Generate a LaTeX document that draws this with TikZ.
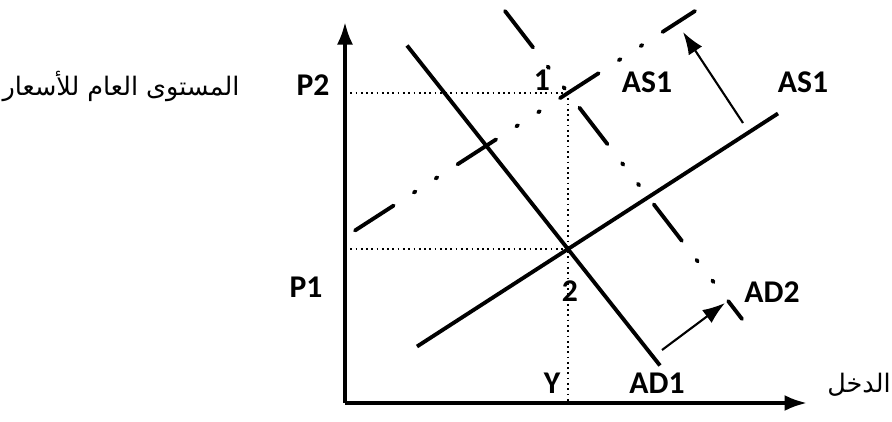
\documentclass[tikz,border=0pt]{standalone}
\usepackage{fontspec}
\setmainfont{Carlito}
\newfontfamily\arabicfont[Script=Arabic]{DejaVu Sans}
\TeXXeTstate=1
\usetikzlibrary{arrows.meta}

\begin{document}
\begin{tikzpicture}[>={Latex[length=4.5mm,width=3.2mm]},
		font=\fontsize{18}{21}\selectfont\bfseries,
		courbe/.style={line width=2.2pt},
		decale/.style={line width=2.2pt, line cap=round,
			dash pattern=on 0.92cm off 0.48cm on 0.04cm off 0.48cm on 0.04cm off 0.48cm},
		repere/.style={dotted, line width=1pt},
		axe/.style={line width=2pt, ->},
		fleche/.style={line width=1.2pt, ->}]
		\useasboundingbox (-6.9,-0.36) rectangle (10.94,8.06);
		% axes
		\coordinate (O) at (0,0);
		\coordinate (yhaut) at (0,7.62);
		\coordinate (xfin) at (9.24,0);
		\draw[axe] (O) -- (yhaut);
		\draw[axe] (O) -- (xfin);
		\node[font=\arabicfont\fontsize{14.5}{17}\selectfont] (prix) at (-4.48,6.34) {\beginR المستوى العام للأسعار\endR};
		\node[font=\arabicfont\fontsize{14.5}{17}\selectfont] (revenu) at (10.28,0.36) {\beginR الدخل\endR};
		% equilibres
		\coordinate (E2) at (4.46,3.08);
		\coordinate (E1) at (4.46,6.20);
		\coordinate (Y) at (4.46,0);
		\coordinate (P1) at (0,3.08);
		\coordinate (P2) at (0,6.20);
		\draw[repere] (P2) -- (E1);
		\draw[repere] (P1) -- (E2);
		\draw[repere] (E1) -- (Y);
		% courbes initiales
		\coordinate (as1a) at (1.44,1.13);
		\coordinate (as1b) at (8.66,5.79);
		\coordinate (ad1a) at (1.24,7.15);
		\coordinate (ad1b) at (6.30,0.75);
		\draw[courbe] (as1a) -- (as1b);
		\draw[courbe] (ad1a) -- (ad1b);
		% courbes deplacees
		\coordinate (as2a) at (0.20,3.45);
		\coordinate (as2b) at (7.00,7.84);
		\coordinate (ad2a) at (3.20,7.84);
		\coordinate (ad2b) at (7.94,1.68);
		\draw[decale] (as2a) -- (as2b);
		\draw[decale] (ad2a) -- (ad2b);
		% deplacements
		\coordinate (dasA) at (7.96,5.60);
		\coordinate (dasB) at (6.76,7.42);
		\coordinate (dadA) at (6.34,1.06);
		\coordinate (dadB) at (7.60,2.00);
		\draw[fleche] (dasA) -- (dasB);
		\draw[fleche] (dadA) -- (dadB);
		% etiquettes
		\node (lP2) at (-0.64,6.36) {P2};
		\node (lP1) at (-0.78,2.32) {P1};
		\node (l1) at (3.94,6.46) {1};
		\node (l2) at (4.50,2.24) {2};
		\node (lY) at (4.14,0.40) {Y};
		\node (lAS2) at (6.04,6.42) {AS1};
		\node (lAS1) at (9.16,6.42) {AS1};
		\node (lAD2) at (8.54,2.22) {AD2};
		\node (lAD1) at (6.24,0.40) {AD1};
	\end{tikzpicture}
\end{document}
